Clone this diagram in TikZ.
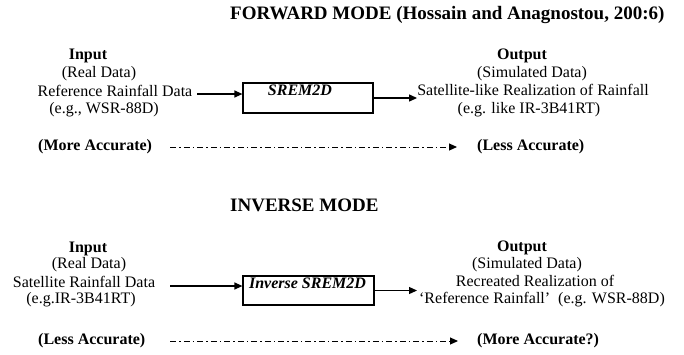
\documentclass[tikz,border=0pt]{standalone}
\usepackage{fontspec}
\setmainfont{Liberation Serif}
\usetikzlibrary{arrows.meta}
\begin{document}
\begin{tikzpicture}[x=1pt,y=-1pt,
  txt/.style={inner sep=0pt, font=\fontsize{16}{18}\selectfont, text height=11pt, text depth=3.5pt},
  btxt/.style={txt, font=\fontsize{16}{18}\selectfont\bfseries},
  ttl/.style={inner sep=0pt, anchor=west, font=\fontsize{19}{22}\selectfont\bfseries, text height=13pt, text depth=4pt},
  box/.style={draw, line width=1.2pt, minimum width=130pt, minimum height=30pt, inner sep=0pt},
  boxlbl/.style={txt, font=\fontsize{16}{18}\selectfont\bfseries\itshape},
  arr/.style={line width=1.2pt, -{Triangle[length=8pt,width=7pt]}},
  dd/.style={line width=1pt, dash pattern=on 6pt off 3pt on 1.5pt off 3pt, -{Triangle[length=8pt,width=7pt]}},
]
\useasboundingbox (0,0) rectangle (684,354);
% Forward mode
\node[ttl] (t1) at (230,15) {FORWARD MODE (Hossain and Anagnostou, 200:6)};
\node[btxt] (fin1) at (88,56) {Input};
\node[txt] (fin2) at (99,74) {(Real Data)};
\node[txt] (fin3) at (115,93) {Reference Rainfall Data};
\node[txt] (fin4) at (104,110) {(e.g., WSR-88D)};
\node[box] (fbox) at (308,98) {};
\node[boxlbl] (fbl) at (300,92) {SREM2D};
\node[btxt] (fout1) at (522,56) {Output};
\node[txt] (fout2) at (532,74) {(Simulated Data)};
\node[txt] (fout3) at (533,92) {Satellite-like Realization of Rainfall};
\node[txt] (fout4) at (529,110) {(e.g. like IR-3B41RT)};
\node[btxt, anchor=west] (fma) at (38,147) {(More Accurate)};
\node[btxt, anchor=west] (fla) at (477,147) {(Less Accurate)};
\draw[arr] ([xshift=5pt,yshift=-1pt]fin3.east) -- ([yshift=-1pt]fin3.east -| fbox.west);
\draw[arr] (fbox.east) -- (fbox.east -| fout3.west);
\draw[dd] ([xshift=18pt]fma.east) -- ([xshift=-20pt]fla.west);
% Inverse mode
\node[ttl] (t2) at (230,207) {INVERSE MODE};
\node[btxt] (iin1) at (88,249) {Input};
\node[txt] (iin2) at (89,265) {(Real Data)};
\node[txt] (iin3) at (84,284) {Satellite Rainfall Data};
\node[txt] (iin4) at (81,300) {(e.g.IR-3B41RT)};
\node[box, minimum height=29pt, minimum width=131pt] (ibox) at (308.5,290.5) {};
\node[boxlbl] (ibl) at (307.5,285) {Inverse SREM2D};
\node[btxt] (iout1) at (522,248) {Output};
\node[txt] (iout2) at (527,265) {(Simulated Data)};
\node[txt] (iout3) at (535,283) {Recreated Realization of};
\node[txt] (iout4) at (542,300) {‘Reference Rainfall’~~(e.g. WSR-88D)};
\node[btxt, anchor=west] (ila) at (38,341) {(Less Accurate)};
\node[btxt, anchor=west] (ima) at (477,341) {(More Accurate?)};
\draw[arr] ([xshift=15pt,yshift=-2pt]iin3.east) -- ([yshift=-2pt]iin3.east -| ibox.west);
\coordinate (iend) at (417,290.5);
\draw[arr] (ibox.east) -- (iend);
\draw[dd] ([xshift=25pt]ila.east) -- ([xshift=-19pt]ima.west);
\end{tikzpicture}
\end{document}
